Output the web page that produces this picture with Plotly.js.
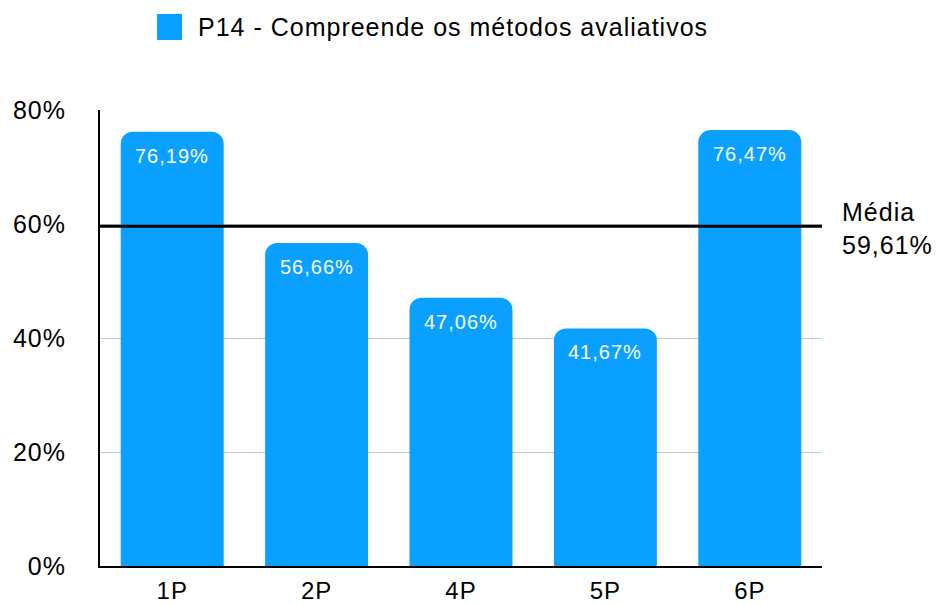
<!DOCTYPE html>
<html>
<head>
<meta charset="utf-8">
<script src="https://cdn.plot.ly/plotly-3.0.1.min.js"></script>
<style>html,body{margin:0;padding:0;background:#fff;}#chart{width:938px;height:605px;}
#chart text{letter-spacing:1px;}</style>
</head>
<body>
<div id="chart"></div>
<script>
var categories = ["1P", "2P", "4P", "5P", "6P"];
var values = [0.7619, 0.5666, 0.4706, 0.4167, 0.7647];
var valueLabels = ["76,19%", "56,66%", "47,06%", "41,67%", "76,47%"];
var seriesName = "P14 - Compreende os métodos avaliativos";
var meanValue = 0.5961;
var meanLabel = "Média<br>59,61%";
var yTicks = [0, 0.2, 0.4, 0.6, 0.8];
var yTickLabels = ["0%", "20%", "40%", "60%", "80%"];

var FONT = "Liberation Sans, Arial, Helvetica, sans-serif";
var BLUE = "#09a0ff";

var trace = {
  type: "bar",
  x: categories,
  y: values,
  name: seriesName,
  marker: {color: BLUE, cornerradius: 12, line: {width: 0}},
  hoverinfo: "none",
  showlegend: false
};

var labelAnnotations = categories.map(function (c, i) {
  return {xref: "x", yref: "y", x: c, y: values[i], xanchor: "center", yanchor: "top",
    yshift: -11, text: valueLabels[i], showarrow: false,
    font: {size: 20, color: "#ffffff", family: FONT}};
});

var layout = {
  width: 938,
  height: 605,
  margin: {l: 100, r: 116, t: 110, b: 39},
  paper_bgcolor: "#ffffff",
  plot_bgcolor: "#ffffff",
  font: {family: FONT, size: 25, color: "#000"},
  bargap: 0.287,
  showlegend: false,
  xaxis: {
    type: "category",
    showline: true,
    linecolor: "#000",
    linewidth: 2,
    showgrid: false,
    ticks: "",
    tickfont: {size: 24, color: "#000", family: FONT},
    ticklabelstandoff: 2,
    automargin: false,
    fixedrange: true
  },
  yaxis: {
    range: [0, 0.8],
    tickvals: yTicks,
    ticktext: yTickLabels,
    showline: true,
    linecolor: "#000",
    linewidth: 2,
    showgrid: true,
    gridcolor: "#c8c8c8",
    gridwidth: 1,
    zeroline: false,
    ticks: "",
    ticklabelstandoff: 27,
    tickfont: {size: 25, color: "#000", family: FONT},
    automargin: false,
    fixedrange: true
  },
  shapes: [
    {type: "line", xref: "paper", yref: "y", x0: 0, x1: 1, y0: meanValue, y1: meanValue,
     line: {color: "#000", width: 3}},
    {type: "rect", xref: "paper", yref: "paper", x0: 0.079, x1: 0.1136, y0: 1.1535, y1: 1.2105,
     fillcolor: BLUE, line: {width: 0}}
  ],
  annotations: [
    {xref: "paper", yref: "y", x: 1, y: meanValue, xanchor: "left", yanchor: "middle",
     xshift: 18, yshift: -2, text: meanLabel, showarrow: false, align: "left",
     font: {size: 25, color: "#000", family: FONT}},
    {xref: "paper", yref: "paper", x: 0.133, y: 1.182, xanchor: "left", yanchor: "middle",
     text: seriesName, showarrow: false, align: "left",
     font: {size: 25, color: "#000", family: FONT}}
  ].concat(labelAnnotations)
};

Plotly.newPlot("chart", [trace], layout, {displayModeBar: false, staticPlot: true});
</script>
</body>
</html>
